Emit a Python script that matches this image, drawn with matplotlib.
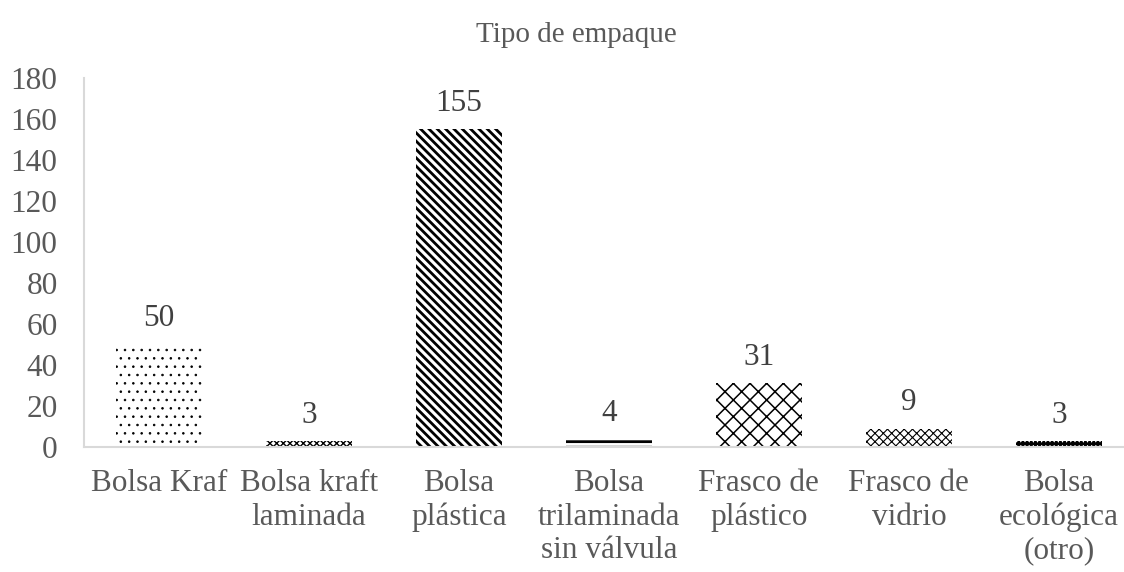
import matplotlib.pyplot as plt
import numpy as np

plt.rcParams['font.family'] = ['Liberation Serif', 'DejaVu Serif']

categorias = ["Bolsa Kraf", "Bolsa kraft\nlaminada", "Bolsa\nplástica",
              "Bolsa\ntrilaminada\nsin válvula", "Frasco de\nplástico",
              "Frasco de\nvidrio", "Bolsa\necológica\n(otro)"]
valores = [50, 3, 155, 4, 31, 9, 3]
tramas = ['..', 'xxxxx', '\\\\\\\\', '---', 'xx', 'xxxx', '++++']
grosor_trama = [0.6, 1.0, 2.0, 2.0, 1.1, 0.8, 2.0]

gris = '#595959'
fig = plt.figure(figsize=(11.24, 5.72), dpi=100)
# the plot area runs slightly past the right edge of the picture, as in the original
ax = fig.add_axes([0.0747, 0.2185, 0.934, 0.645])

x = np.arange(len(categorias))
for i in range(len(valores)):
    with plt.rc_context({'hatch.linewidth': grosor_trama[i]}):
        b = ax.bar(x[i], valores[i], width=0.575, color='white',
                   edgecolor='black', hatch=tramas[i], linewidth=0)
    for p in b:
        if hasattr(p, 'set_hatch_linewidth'):
            p.set_hatch_linewidth(grosor_trama[i])
    ax.annotate(str(valores[i]), (x[i], valores[i]), xytext=(0, 8),
                textcoords='offset points', ha='center', va='bottom',
                fontsize=22.5, color='#404040')

ax.set_xlim(-0.5, len(categorias) - 0.5)
ax.set_ylim(0, 180)
ax.set_yticks(range(0, 181, 20))
ax.set_xticks(x)
ax.set_xticklabels(categorias, fontsize=22.5, linespacing=1.2, color=gris)
ax.tick_params(axis='y', labelsize=22.5, labelcolor=gris, length=0, pad=19)
ax.tick_params(axis='x', length=0, pad=16)
for s in ['top', 'right']:
    ax.spines[s].set_visible(False)
for s in ['bottom', 'left']:
    ax.spines[s].set_color('#d9d9d9')
    ax.spines[s].set_linewidth(1.5)

fig.text(0.513, 0.938, "Tipo de empaque", ha='center', va='center',
         fontsize=21, color=gris)
fig.savefig("out.png", dpi=100)
